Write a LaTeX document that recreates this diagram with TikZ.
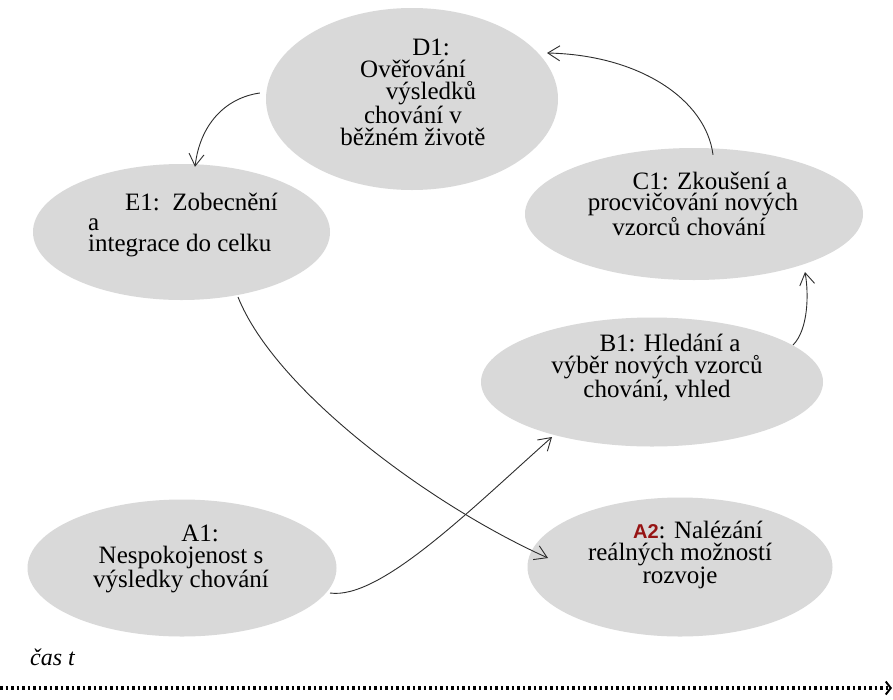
\documentclass[tikz,border=0pt]{standalone}
\usepackage{fontspec}
\setmainfont{Liberation Serif}
\newfontfamily\labelsans{Liberation Sans}
\usetikzlibrary{shapes.geometric,arrows.meta}
\definecolor{ellgray}{RGB}{217,217,217}
\definecolor{a2red}{RGB}{150,20,20}
\definecolor{linegray}{RGB}{45,45,45}
\begin{document}
\begin{tikzpicture}[x=1pt,y=-1pt,
  stage/.style={ellipse,fill=ellgray,draw=none,inner sep=0pt},
  stagetext/.style={inner sep=0pt,text=black,font=\fontsize{25}{22}\selectfont},
  flow/.style={draw=linegray,line width=0.9pt,-{Straight Barb[length=12pt,width=15pt]}},
  timeline/.style={draw=black,line width=3.5pt,dash pattern=on 2.5pt off 3pt,
    -{Straight Barb[length=5pt,width=13pt,line width=2pt]}}]
\useasboundingbox (0,0) rectangle (893,699);
\fill[white] (0,0) rectangle (893,699);
% ellipses
\node[stage,minimum width=292pt,minimum height=182pt] (D1) at (412,99) {};
\node[stage,minimum width=297pt,minimum height=136pt] (E1) at (181.5,232) {};
\node[stage,minimum width=338pt,minimum height=132pt] (C1) at (694,214) {};
\node[stage,minimum width=342pt,minimum height=129pt] (B1) at (652,382) {};
\node[stage,minimum width=309pt,minimum height=137pt] (A1) at (182,568) {};
\node[stage,minimum width=305pt,minimum height=139pt] (A2) at (680,567) {};
% texts (anchored at the baseline of their last line)
\node[stagetext,align=center,anchor=base] (D1t) at (413,145)
  {\hspace*{36pt}D1:\\Ověřování\\\hspace*{36pt}výsledků\\chování v\\běžném životě};
\node[stagetext,align=left,anchor=base west,font=\fontsize{25}{20.5}\selectfont] (E1t) at (88,251)
  {\hspace*{37pt}E1:\ \ Zobecnění\\a\\integrace do celku};
\node[stagetext,align=center,anchor=base,font=\fontsize{25}{21}\selectfont] (C1t) at (693,235)
  {\hspace*{34pt}C1: Zkoušení a\\procvičování nových\\vzorců chování\hspace*{8pt}};
\node[stagetext,align=center,anchor=base] (B1t) at (657,397)
  {\hspace*{26pt}B1: Hledání a\\výběr nových vzorců\\chování, vhled};
\node[stagetext,align=center,anchor=base] (A1t) at (181,587)
  {\hspace*{38pt}A1:\\Nespokojenost s\\výsledky chování};
\node[stagetext,align=center,anchor=base,font=\fontsize{25}{21.5}\selectfont] (A2t) at (680,583)
  {\hspace*{36pt}{\labelsans\bfseries\fontsize{20}{21.5}\selectfont\color{a2red}A2}: Nalézání\\reálných možností\\rozvoje};
% connectors
\draw[flow] ([shift={(-6,-6)}]D1.west) .. controls +(-35,5) and +(5,-42) .. ([shift={(13.5,3)}]E1.north);
\draw[flow] ([shift={(19,7)}]C1.north) .. controls +(-7,-55) and +(93,2) .. ([shift={(135,-46)}]D1.center);
\draw[flow] ([shift={(141,-37)}]B1.center) .. controls +(15,-15) and +(4,23) .. ([shift={(111,58)}]C1.center);
\draw[flow] ([shift={(56.5,65)}]E1.center) .. controls +(37,93) and +(-118,-53) .. ([shift={(-132,-9)}]A2.center);
\draw[flow] ([shift={(148,25)}]A1.center) .. controls +(50,7) and +(-82,73) .. ([shift={(-100,55)}]B1.center);
% time axis
\node[inner sep=0pt,anchor=base west,font=\fontsize{24}{26}\selectfont\itshape] (cas) at (30,665) {čas t};
\coordinate (tstart) at (0,688);
\coordinate (tend) at (892,688);
\draw[timeline] (tstart) -- (tend);
\end{tikzpicture}
\end{document}
